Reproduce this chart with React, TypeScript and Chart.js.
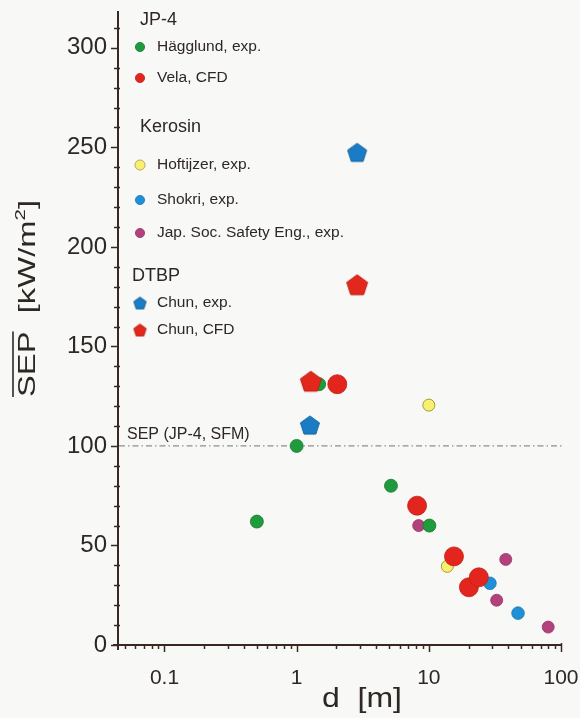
import React, { useEffect, useRef } from 'react';
import { Chart, registerables } from 'chart.js';

Chart.register(...registerables);

// ---- Data: d [m] and SEP [kW/m²] ----
const hagglundD = [0.5, 1.0, 1.48, 5.17, 10.1];
const hagglundSEP = [62, 100, 131, 80, 60];
const velaD = [2.03, 8.15, 15.5, 20.1, 23.9];
const velaSEP = [131, 70, 44.5, 29, 34];
const hoftijzerD = [10, 13.8];
const hoftijzerSEP = [120.5, 39.5];
const shokriD = [29, 47.3];
const shokriSEP = [31, 16];
const japD = [8.38, 38.2, 32.6, 80];
const japSEP = [60, 43, 22.5, 9];
const chunExpD = [1.26, 2.87];
const chunExpSEP = [110.5, 247.5];
const chunCfdD = [1.28, 2.87];
const chunCfdSEP = [132.5, 181];

const sfmSEP = 100;
const sfmLabel = 'SEP (JP-4, SFM)';
const xTickValues = [0.1, 1, 10, 100];
const yTickValues = [0, 50, 100, 150, 200, 250, 300];
const legendGroups = ['JP-4', 'Kerosin', 'DTBP'];
const seriesNames = [
  'Hägglund, exp.',
  'Vela, CFD',
  'Hoftijzer, exp.',
  'Shokri, exp.',
  'Jap. Soc. Safety Eng., exp.',
  'Chun, exp.',
  'Chun, CFD',
];
const xTitle = 'd  [m]';

const FONT = '"Liberation Sans", Arial, Helvetica, sans-serif';
const AXIS = '#3a2823';
const TEXT = '#2e2825';

function pts(xs: number[], ys: number[]) {
  return xs.map((x, i) => ({ x, y: ys[i] }));
}

function makePentagon(R: number, fill: string, stroke: string) {
  const size = Math.ceil(2 * R + 4);
  const c = document.createElement('canvas');
  c.width = size;
  c.height = size;
  const g = c.getContext('2d')!;
  const cx = size / 2;
  const cy = size / 2 + R * 0.095;
  g.beginPath();
  for (let i = 0; i < 5; i++) {
    const a = -Math.PI / 2 + (i * 2 * Math.PI) / 5;
    const px = cx + R * Math.cos(a);
    const py = cy + R * Math.sin(a);
    if (i === 0) g.moveTo(px, py);
    else g.lineTo(px, py);
  }
  g.closePath();
  g.fillStyle = fill;
  g.fill();
  g.lineJoin = 'round';
  g.lineWidth = 1;
  g.strokeStyle = stroke;
  g.stroke();
  return c;
}

export default function App() {
  const ref = useRef<HTMLCanvasElement | null>(null);

  useEffect(() => {
    document.body.style.margin = '0';
    const canvas = ref.current!;

    const pentExpBig = makePentagon(10, '#1a7cc4', '#16639c');
    const pentCfdBig = makePentagon(11, '#e2281c', '#c01f16');
    const pentExpSmall = makePentagon(6.5, '#1a7cc4', '#16639c');
    const pentCfdSmall = makePentagon(6.5, '#e2281c', '#c01f16');

    const datasets: any[] = [
      {
        label: seriesNames[0],
        data: pts(hagglundD, hagglundSEP),
        pointStyle: 'circle',
        pointRadius: 6.5,
        backgroundColor: '#1f9a3c',
        borderColor: '#177a30',
        borderWidth: 0.8,
        order: 4,
      },
      {
        label: seriesNames[1],
        data: pts(velaD, velaSEP),
        pointStyle: 'circle',
        pointRadius: 9.5,
        backgroundColor: '#e3261d',
        borderColor: '#c41f17',
        borderWidth: 0.8,
        order: 3,
      },
      {
        label: seriesNames[2],
        data: pts(hoftijzerD, hoftijzerSEP),
        pointStyle: 'circle',
        pointRadius: 6,
        backgroundColor: '#f7f074',
        borderColor: '#a89c24',
        borderWidth: 1,
        order: 7,
      },
      {
        label: seriesNames[3],
        data: pts(shokriD, shokriSEP),
        pointStyle: 'circle',
        pointRadius: 6.3,
        backgroundColor: '#1f8fd6',
        borderColor: '#1a78b4',
        borderWidth: 0.8,
        order: 5,
      },
      {
        label: seriesNames[4],
        data: pts(japD, japSEP),
        pointStyle: 'circle',
        pointRadius: 6,
        backgroundColor: '#b3427c',
        borderColor: '#983467',
        borderWidth: 0.8,
        order: 6,
      },
      {
        label: seriesNames[5],
        data: pts(chunExpD, chunExpSEP),
        pointStyle: pentExpBig,
        pointRadius: 10,
        backgroundColor: '#1a7cc4',
        order: 2,
      },
      {
        label: seriesNames[6],
        data: pts(chunCfdD, chunCfdSEP),
        pointStyle: pentCfdBig,
        pointRadius: 11,
        backgroundColor: '#e2281c',
        order: 1,
      },
    ];

    const legendLayout: { kind: 'head' | 'item'; idx: number; y: number }[] = [
      { kind: 'head', idx: 0, y: 20 },
      { kind: 'item', idx: 0, y: 47 },
      { kind: 'item', idx: 1, y: 78 },
      { kind: 'head', idx: 1, y: 127 },
      { kind: 'item', idx: 2, y: 165 },
      { kind: 'item', idx: 3, y: 200 },
      { kind: 'item', idx: 4, y: 233 },
      { kind: 'head', idx: 2, y: 276 },
      { kind: 'item', idx: 5, y: 303 },
      { kind: 'item', idx: 6, y: 330 },
    ];

    const decor = {
      id: 'decor',
      beforeDraw(chart: any) {
        const ctx = chart.ctx;
        ctx.save();
        ctx.fillStyle = '#f8f8f6';
        ctx.fillRect(0, 0, chart.width, chart.height);
        ctx.restore();
      },
      beforeDatasetsDraw(chart: any) {
        const { ctx, chartArea } = chart;
        const x = chart.scales.x;
        const y = chart.scales.y;
        ctx.save();
        // reference line
        const py = y.getPixelForValue(sfmSEP);
        ctx.setLineDash([6, 3, 1.5, 3]);
        ctx.strokeStyle = '#8e8e8e';
        ctx.lineWidth = 1.3;
        ctx.beginPath();
        ctx.moveTo(chartArea.left + 1, py);
        ctx.lineTo(chartArea.right + 1, py);
        ctx.stroke();
        ctx.setLineDash([]);
        ctx.fillStyle = TEXT;
        ctx.font = `16px ${FONT}`;
        ctx.textBaseline = 'middle';
        ctx.textAlign = 'left';
        ctx.fillText(sfmLabel, 127, py - 11);

        // axis extensions and tick marks
        ctx.strokeStyle = AXIS;
        ctx.lineWidth = 2;
        ctx.beginPath();
        ctx.moveTo(chartArea.left - 5, chartArea.bottom);
        ctx.lineTo(chartArea.left, chartArea.bottom);
        ctx.moveTo(chartArea.left, chartArea.bottom);
        ctx.lineTo(chartArea.left, chartArea.bottom + 5);
        ctx.stroke();

        ctx.lineWidth = 1.5;
        ctx.beginPath();
        for (let v = 0; v <= y.max; v += 10) {
          const p = Math.round(y.getPixelForValue(v)) + 0.5;
          if (v % 50 === 0) {
            ctx.moveTo(chartArea.left - 7, p);
            ctx.lineTo(chartArea.left, p);
          } else {
            ctx.moveTo(chartArea.left - 4, p);
            ctx.lineTo(chartArea.left + 2, p);
          }
        }
        for (let e = -2; e <= 1; e++) {
          for (let m = 1; m <= 9; m++) {
            const v = m * Math.pow(10, e);
            if (v < x.min || v > x.max * 1.0001) continue;
            const p = Math.round(x.getPixelForValue(v)) + 0.5;
            ctx.moveTo(p, chartArea.bottom);
            ctx.lineTo(p, chartArea.bottom + (m === 1 ? 7 : 4));
          }
        }
        const p100 = Math.round(x.getPixelForValue(100)) + 0.5;
        ctx.moveTo(p100, chartArea.bottom - 2);
        ctx.lineTo(p100, chartArea.bottom + 7);
        ctx.stroke();
        ctx.restore();
      },
      afterDraw(chart: any) {
        const { ctx } = chart;
        ctx.save();
        // legend
        for (const row of legendLayout) {
          if (row.kind === 'head') {
            ctx.font = `18px ${FONT}`;
            ctx.fillStyle = TEXT;
            ctx.textBaseline = 'middle';
            ctx.textAlign = 'left';
            ctx.fillText(legendGroups[row.idx], row.idx === 2 ? 132 : 140, row.y);
          } else {
            const ds = datasets[row.idx];
            const mx = 140;
            if (row.idx === 5 || row.idx === 6) {
              const img = row.idx === 5 ? pentExpSmall : pentCfdSmall;
              ctx.drawImage(img, mx - img.width / 2, row.y - img.height / 2);
            } else {
              ctx.beginPath();
              ctx.arc(mx, row.y, row.idx === 2 ? 5 : 4.6, 0, Math.PI * 2);
              ctx.fillStyle = ds.backgroundColor;
              ctx.fill();
              ctx.lineWidth = 0.8;
              ctx.strokeStyle = ds.borderColor;
              ctx.stroke();
            }
            ctx.font = `15.5px ${FONT}`;
            ctx.fillStyle = TEXT;
            ctx.textBaseline = 'middle';
            ctx.textAlign = 'left';
            ctx.fillText(ds.label, 157, row.y);
          }
        }

        // y title: SEP (overlined) [kW/m²]
        ctx.save();
        ctx.translate(35, 397);
        ctx.rotate(-Math.PI / 2);
        ctx.font = `24px ${FONT}`;
        const supFont = `15px ${FONT}`;
        const partA = 'SEP';
        const partB = '  [kW/m';
        const partC = ']';
        const wA = ctx.measureText(partA).width;
        const wB = ctx.measureText(partB).width;
        const wC = ctx.measureText(partC).width;
        ctx.font = supFont;
        const wS = ctx.measureText('2').width;
        const total = wA + wB + wS + wC;
        const sx = 197 / total;
        ctx.scale(sx, 1);
        ctx.fillStyle = TEXT;
        ctx.textBaseline = 'alphabetic';
        ctx.textAlign = 'left';
        ctx.font = `24px ${FONT}`;
        ctx.fillText(partA, 0, 0);
        ctx.fillText(partB, wA, 0);
        ctx.font = supFont;
        ctx.fillText('2', wA + wB, -10);
        ctx.font = `24px ${FONT}`;
        ctx.fillText(partC, wA + wB + wS, 0);
        ctx.strokeStyle = TEXT;
        ctx.lineWidth = 1.6;
        ctx.beginPath();
        ctx.moveTo(0, -22);
        ctx.lineTo(wA, -22);
        ctx.stroke();
        ctx.restore();

        // x title
        ctx.save();
        ctx.font = `27px ${FONT}`;
        const wx = ctx.measureText(xTitle).width;
        const sxx = 80 / wx;
        ctx.translate(322, 700);
        ctx.scale(sxx, 1);
        ctx.fillStyle = TEXT;
        ctx.textBaseline = 'middle';
        ctx.textAlign = 'left';
        ctx.fillText(xTitle, 0, 0);
        ctx.restore();

        ctx.restore();
      },
    };

    const chart = new Chart(canvas, {
      type: 'scatter',
      data: { datasets },
      options: {
        animation: false,
        responsive: false,
        maintainAspectRatio: false,
        layout: { padding: { top: 10, right: 19, left: 0, bottom: 0 } },
        plugins: { legend: { display: false }, tooltip: { enabled: false } },
        scales: {
          x: {
            type: 'logarithmic',
            position: 'bottom',
            min: 0.0445,
            max: 100,
            afterFit: (s: any) => {
              s.height = 73;
              s.paddingLeft = 0;
              s.paddingRight = 0;
            },
            afterBuildTicks: (s: any) => {
              s.ticks = xTickValues.map((v) => ({ value: v }));
            },
            grid: { display: false, drawTicks: false, tickLength: 0 },
            border: { display: true, color: AXIS, width: 2 },
            ticks: {
              autoSkip: false,
              maxRotation: 0,
              padding: 21,
              color: TEXT,
              font: { family: FONT, size: 21 },
              callback: (v: any) => String(v),
            },
          },
          y: {
            type: 'linear',
            position: 'left',
            min: 0,
            max: 318,
            afterFit: (s: any) => {
              s.width = 118;
              s.paddingTop = 0;
              s.paddingBottom = 0;
            },
            afterBuildTicks: (s: any) => {
              s.ticks = yTickValues.map((v) => ({ value: v }));
            },
            grid: { display: false, drawTicks: false, tickLength: 0 },
            border: { display: true, color: AXIS, width: 2 },
            ticks: {
              padding: 11,
              color: TEXT,
              font: { family: FONT, size: 24 },
              callback: (v: any) => String(v),
            },
          },
        },
      } as any,
      plugins: [decor],
    });

    return () => chart.destroy();
  }, []);

  return <canvas ref={ref} width={580} height={718} style={{ display: 'block' }} />;
}
